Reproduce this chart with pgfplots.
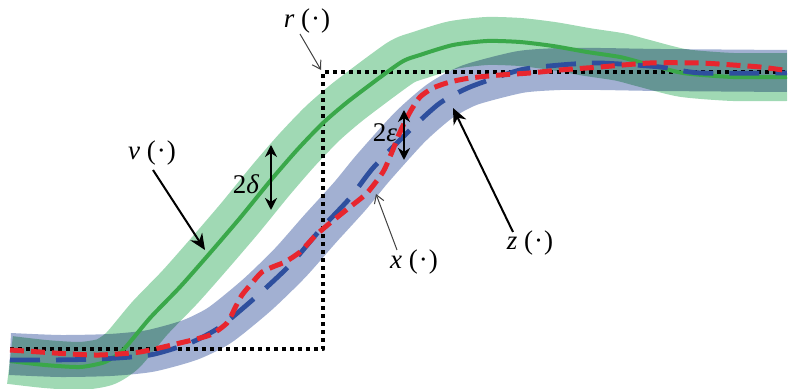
\documentclass[border=0pt]{standalone}
\usepackage{fontspec}
\setmainfont{Liberation Serif}
\newfontfamily\labfont{Liberation Serif}
\usepackage{pgfplots}
\pgfplotsset{compat=1.18}
\usetikzlibrary{arrows.meta}
\definecolor{gband}{RGB}{160,217,180}
\definecolor{bband}{RGB}{162,176,210}
\definecolor{gline}{RGB}{58,168,74}
\definecolor{bline}{RGB}{46,79,158}
\definecolor{rline}{RGB}{232,38,46}
\begin{document}
\begin{tikzpicture}[lab/.style={font=\labfont\fontsize{13.5}{16}\selectfont, inner sep=0pt}]
\begin{axis}[hide axis, scale only axis, width=400pt, height=194.5pt,
  xmin=0, xmax=800, ymin=0, ymax=389, y dir=reverse, clip=false,
  every axis plot/.append style={line join=round}]
\coordinate (BBa) at (axis cs:0,0);
\coordinate (BBb) at (axis cs:800,389);
% blue band z
\addplot[bband, line width=21pt, smooth, tension=0.4] coordinates {
(10,354)(60,356)(110,355)(150,351)(190,340)(220,325)(257,295)(290,263)(320,229)(350,196)(373,168)(410,127)(440,101)(470,85)(520,72)(560,69)(600,69)(660,70)(787,71)};
% green band v
\addplot[gband, line width=24pt, smooth, tension=0.4, blend mode=multiply] coordinates {
(10,360)(45,364)(80,366)(105,362)(123,350)(150,318)(180,287)(210,253)(240,218)(271,180)(297,150)(323,123)(350,100)(400,63)(420,55)(453,45)(487,41)(520,42)(553,46)(587,52)(620,57)(643,63)(683,73)(733,77)(787,77)};
% reference r dotted
\addplot[black, line width=2.2pt, dash pattern=on 2.2pt off 1.8pt] coordinates {
(10,349)(323,349)(323,72)(787,72)};
% green line v
\addplot[gline, line width=2pt, smooth, tension=0.4] coordinates {
(10,361)(45,365)(80,367)(105,362)(123,350)(150,318)(180,287)(210,253)(240,218)(271,180)(297,150)(323,123)(350,100)(400,63)(420,55)(453,45)(487,41)(520,42)(553,46)(587,52)(620,57)(643,63)(683,73)(733,77)(787,77)};
% blue dashed z
\addplot[bline, line width=2.4pt, dash pattern=on 15pt off 8pt, smooth, tension=0.4] coordinates {
(10,360)(50,360)(100,359)(150,355)(190,343)(220,327)(257,296)(290,265)(320,230)(350,198)(373,168)(410,130)(440,103)(470,87)(520,70)(560,65)(600,63)(660,67)(700,73)(787,73)};
% red dashed x
\addplot[rline, line width=2.5pt, dash pattern=on 7pt off 3.5pt, smooth, tension=0.4] coordinates {
(10,350)(40,352)(70,354)(100,355)(140,352)(180,343)(210,335)(227,323)(235,308)(242,295)(252,283)(262,272)(275,266)(285,262)(300,252)(315,236)(330,223)(350,207)(367,193)(383,172)(392,152)(400,132)(410,112)(420,97)(433,88)(450,82)(470,78)(500,75)(530,73)(560,70)(600,67)(650,63)(700,63)(733,65)(760,67)(783,70)};
% annotations
\draw[black!75, line width=0.5pt, -{Straight Barb[length=4pt,width=5pt]}] (axis cs:300,34) -- (axis cs:321,70);
\draw[black, line width=1pt, -{Stealth[length=8pt,width=7pt]}] (axis cs:153,170) -- (axis cs:205,250);
\draw[black, line width=1pt, -{Stealth[length=8pt,width=7pt]}] (axis cs:513,232) -- (axis cs:453,108);
\draw[black!75, line width=0.5pt, -{Straight Barb[length=4pt,width=5pt]}] (axis cs:397,250) -- (axis cs:376,194);
\draw[black, line width=1.2pt, {Stealth[length=6pt,width=6pt]}-{Stealth[length=6pt,width=6pt]}] (axis cs:271,145) -- (axis cs:271,210);
\draw[black, line width=1.2pt, {Stealth[length=6pt,width=6pt]}-{Stealth[length=6pt,width=6pt]}] (axis cs:404,110) -- (axis cs:404,160);
\node[lab] at (axis cs:307,21) {\textit{r}~(\kern0.5pt·\kern0.5pt)};
\node[lab] at (axis cs:152,153) {\textit{v}~(\kern0.5pt·\kern0.5pt)};
\node[lab] at (axis cs:246,184) {2\textit{δ}};
\node[lab] at (axis cs:385,133) {2\textit{ε}};
\node[lab] at (axis cs:414,262) {\textit{x}~(\kern0.5pt·\kern0.5pt)};
\node[lab] at (axis cs:530,243) {\textit{z}~(\kern0.5pt·\kern0.5pt)};
\end{axis}
\pgfresetboundingbox
\path[use as bounding box] (BBa) rectangle (BBb);
\end{tikzpicture}
\end{document}
